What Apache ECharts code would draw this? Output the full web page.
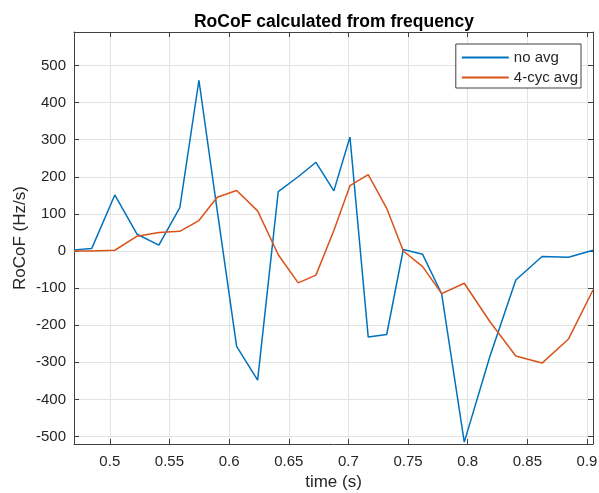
<!DOCTYPE html>
<html>
<head>
<meta charset="utf-8">
<script src="https://cdn.jsdelivr.net/npm/echarts@6/dist/echarts.min.js"></script>
<style>
  html, body { margin: 0; padding: 0; background: #fff; }
  #chart { width: 599px; height: 493px; }
</style>
</head>
<body>
<div id="chart"></div>
<script>
// time stamps (s)
var time = [0.4700, 0.4849, 0.5042, 0.5229, 0.5411, 0.5587, 0.5747, 0.5900, 0.6063, 0.6239,
            0.6412, 0.6579, 0.6728, 0.6878, 0.7013, 0.7166, 0.7321, 0.7460, 0.7622, 0.7782,
            0.7971, 0.8185, 0.8403, 0.8623, 0.8845, 0.9050];
// RoCoF (Hz/s)
var noAvg = [3, 7, 151, 45, 16, 117, 460, 110, -257, -348,
             160, 200, 239, 162, 307, -232, -225, 4, -9, -116,
             -515, -285, -78, -15, -17, 2];
var cycAvg = [0, 0, 2, 40, 50, 53, 82, 145, 163, 108,
              -10, -86, -65, 55, 176, 206, 115, 0, -42, -115,
              -87, -190, -283, -302, -237, -105];
var seriesNames = ["no avg", "4-cyc avg"];

var xMin = 0.47, xMax = 0.905;
var yMin = -520, yMax = 590;

function pairs(xs, ys) {
  var out = [];
  for (var i = 0; i < xs.length; i++) out.push([xs[i], ys[i]]);
  return out;
}

var txt = "#262626";
var axisCol = "#404040";
var font = "'Liberation Sans', Arial, sans-serif";

var myChart = echarts.init(document.getElementById("chart"));

let option = {
  animation: false,
  backgroundColor: "#fff",
  title: {
    text: "RoCoF calculated from frequency",
    left: 329,
    top: 8,
    textAlign: "center",
    textStyle: { fontFamily: font, fontSize: 17.5, fontWeight: "bold", color: "#000" }
  },
  legend: {
    data: seriesNames,
    orient: "vertical",
    right: 18,
    top: 44,
    itemWidth: 47,
    itemHeight: 14,
    itemGap: 5,
    padding: [6, 3, 3, 5],
    borderColor: axisCol,
    borderWidth: 1,
    backgroundColor: "#fff",
    itemStyle: { opacity: 0 },
    textStyle: { fontFamily: font, fontSize: 15, color: txt }
  },
  grid: { left: 74, right: 6, top: 32, bottom: 49, outerBoundsMode: "none" },
  xAxis: [
    {
      type: "value",
      min: xMin,
      max: xMax,
      splitNumber: 9,
      name: "time (s)",
      nameLocation: "middle",
      nameGap: 29,
      nameTextStyle: { fontFamily: font, fontSize: 17, color: txt },
      axisLine: { onZero: false, lineStyle: { color: axisCol, width: 1 } },
      axisTick: { inside: true, length: 5, lineStyle: { color: axisCol } },
      axisLabel: {
        showMinLabel: false, showMaxLabel: false,
        margin: 10, fontFamily: font, fontSize: 15, color: txt
      },
      splitLine: { show: true, lineStyle: { color: "#e3e3e3", width: 1 } }
    },
    {
      type: "value",
      position: "top",
      min: xMin,
      max: xMax,
      splitNumber: 9,
      axisLine: { show: true, onZero: false, lineStyle: { color: axisCol, width: 1 } },
      axisTick: { show: true, inside: true, length: 5, lineStyle: { color: axisCol } },
      axisLabel: { show: false },
      splitLine: { show: false }
    }
  ],
  yAxis: [
    {
      type: "value",
      min: yMin,
      max: yMax,
      splitNumber: 11,
      name: "RoCoF (Hz/s)",
      nameLocation: "middle",
      nameGap: 45,
      nameMoveOverlap: false,
      nameTextStyle: { fontFamily: font, fontSize: 17, color: txt },
      axisLine: { show: true, onZero: false, lineStyle: { color: axisCol, width: 1 } },
      axisTick: { show: true, inside: true, length: 5, lineStyle: { color: axisCol } },
      axisLabel: {
        showMinLabel: false, showMaxLabel: false,
        margin: 8, fontFamily: font, fontSize: 15, color: txt
      },
      splitLine: { show: true, lineStyle: { color: "#e3e3e3", width: 1 } }
    },
    {
      type: "value",
      position: "right",
      min: yMin,
      max: yMax,
      splitNumber: 11,
      axisLine: { show: true, onZero: false, lineStyle: { color: axisCol, width: 1 } },
      axisTick: { show: true, inside: true, length: 5, lineStyle: { color: axisCol } },
      axisLabel: { show: false },
      splitLine: { show: false }
    }
  ],
  series: [
    {
      name: seriesNames[0],
      type: "line",
      data: pairs(time, noAvg),
      symbol: "none",
      color: "#0072BD",
      lineStyle: { width: 1.5, color: "#0072BD" }
    },
    {
      name: seriesNames[1],
      type: "line",
      data: pairs(time, cycAvg),
      symbol: "none",
      color: "#D95319",
      lineStyle: { width: 1.5, color: "#D95319" }
    }
  ]
};
myChart.setOption(option);
</script>
</body>
</html>
